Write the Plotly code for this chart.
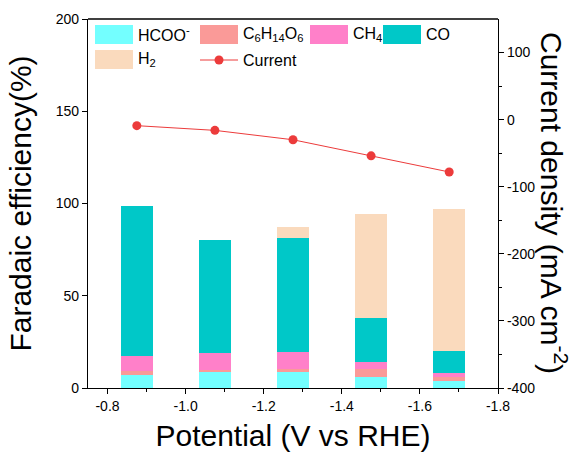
import plotly.graph_objects as go

# ---- data ----
potential = [-0.875, -1.075, -1.275, -1.475, -1.675]
fe_hcoo = [7.2, 8.5, 8.5, 5.8, 3.6]
fe_c6 = [1.8, 1.4, 2.0, 4.7, 2.2]
fe_ch4 = [8.5, 8.9, 8.8, 3.4, 2.5]
fe_co = [81.3, 61.6, 62.2, 23.8, 11.5]
fe_h2 = [0.0, 0.0, 5.9, 56.8, 77.4]
current = [-9, -16, -30, -54, -78]

x_tickvals = [-0.8, -1.0, -1.2, -1.4, -1.6, -1.8]
x_ticktext = ["-0.8", "-1.0", "-1.2", "-1.4", "-1.6", "-1.8"]
x_minorvals = [-0.9, -1.1, -1.3, -1.5, -1.7]
y2_tickvals = [100, 0, -100, -200, -300, -400]
y2_ticktext = ["100", "0", "-100", "-200", "-300", "-400"]
y2_minorvals = [50, -50, -150, -250, -350]

series = [
    ("HCOO<sup>-</sup>", fe_hcoo, "#73FFFF"),
    ("C<sub>6</sub>H<sub>14</sub>O<sub>6</sub>", fe_c6, "#FA9A98"),
    ("CH<sub>4</sub>", fe_ch4, "#FF80C9"),
    ("CO", fe_co, "#00C8C8"),
    ("H<sub>2</sub>", fe_h2, "#FADABD"),
]
line_color = "#EC3B3B"

W, H = 574, 458
L, R, T, B = 88, 76, 19, 70
pw, ph = W - L - R, H - T - B

def px(xp):
    return (xp - L) / pw

def py(yp):
    return (H - B - yp) / ph

fig = go.Figure()
for name, vals, col in series:
    fig.add_trace(go.Bar(x=potential, y=vals, name=name, width=0.083,
                         marker=dict(color=col, line=dict(width=0)),
                         showlegend=False))
fig.add_trace(go.Scatter(x=potential, y=current, yaxis="y2", mode="lines+markers",
                         name="Current", line=dict(color=line_color, width=1),
                         marker=dict(size=9, color=line_color), showlegend=False))

font = "Liberation Sans, Arial, sans-serif"
axis_common = dict(showline=True, linecolor="black", linewidth=1.3, ticks="outside",
                   tickcolor="black", ticklen=5, tickwidth=1.3, showgrid=False,
                   zeroline=False, automargin=False,
                   tickfont=dict(size=14, color="black", family=font))

fig.update_layout(
    width=W, height=H, margin=dict(l=L, r=R, t=T, b=B, autoexpand=False),
    plot_bgcolor="white", paper_bgcolor="white", barmode="stack",
    font=dict(family=font, color="black"),
    xaxis=dict(range=[-0.75, -1.8], tickvals=x_tickvals, ticktext=x_ticktext,
               minor=dict(tickvals=x_minorvals, ticklen=3, tickcolor="black", ticks="outside"),
               title=dict(text="Potential (V vs RHE)", font=dict(size=30, family=font), standoff=12),
               **axis_common),
    yaxis=dict(range=[0, 200], tickvals=[0, 50, 100, 150, 200],
               title=dict(text="Faradaic efficiency(%)", font=dict(size=30, family=font), standoff=15),
               **axis_common),
    yaxis2=dict(range=[-400, 150], overlaying="y", side="right", tickvals=y2_tickvals,
                ticktext=y2_ticktext,
                minor=dict(tickvals=y2_minorvals, ticklen=3, tickcolor="black", ticks="outside"),
                **axis_common),
)

# top frame line
fig.add_shape(type="line", xref="paper", yref="paper", x0=0, x1=1, y0=1, y1=1,
              line=dict(color="black", width=1.3))

# right axis title (reads top to bottom)
fig.add_annotation(text="Current density (mA cm<sup>-2</sup>)", xref="paper", yref="paper",
                   x=px(554), y=py(203), xanchor="center", yanchor="middle",
                   textangle=90, showarrow=False,
                   font=dict(size=30, family=font, color="black"))

# custom legend
leg = [
    (series[0][0], series[0][2], 95, 25),
    (series[1][0], series[1][2], 200, 25),
    (series[2][0], series[2][2], 310, 25),
    (series[3][0], series[3][2], 383, 25),
    (series[4][0], series[4][2], 95, 50),
]
for name, col, x0, y0 in leg:
    fig.add_shape(type="rect", xref="paper", yref="paper", x0=px(x0), x1=px(x0 + 38),
                  y0=py(y0), y1=py(y0 + 19), fillcolor=col, line=dict(width=0))
    fig.add_annotation(text=name, xref="paper", yref="paper", x=px(x0 + 41), y=py(y0 + 9.5),
                       xanchor="left", yanchor="middle", showarrow=False,
                       font=dict(size=16, family=font, color="black"))
# Current legend entry
fig.add_shape(type="line", xref="paper", yref="paper", x0=px(200), x1=px(238),
              y0=py(60), y1=py(60), line=dict(color=line_color, width=1))
fig.add_shape(type="circle", xref="paper", yref="paper", xsizemode="pixel", ysizemode="pixel",
              xanchor=px(219), yanchor=py(60), x0=-4.5, x1=4.5, y0=-4.5, y1=4.5,
              fillcolor=line_color, line=dict(width=0))
fig.add_annotation(text="Current", xref="paper", yref="paper", x=px(241), y=py(60),
                   xanchor="left", yanchor="middle", showarrow=False,
                   font=dict(size=16, family=font, color="black"))

fig.write_html("out.html", config={"displayModeBar": False},
               post_script="document.body.style.margin='0';document.body.style.overflow='hidden';")
